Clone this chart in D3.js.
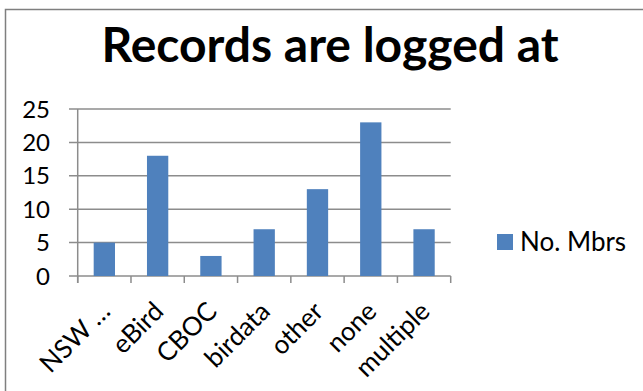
<!DOCTYPE html>
<html><head><meta charset="utf-8">
<script src="https://cdn.jsdelivr.net/npm/d3@7"></script>
<style>
html,body{margin:0;padding:0;background:#fff;}
svg{display:block;font-family:Lato, "Open Sans", sans-serif;}
</style></head>
<body>
<script>
const categories = ["NSW …","eBird","CBOC","birdata","other","none","multiple"];
const values = [5,18,3,7,13,23,7];
const yTicks = [0,5,10,15,20,25];
const seriesName = "No. Mbrs";
const title = "Records are logged at";

const W = 643, H = 391;
const svg = d3.select("body").append("svg").attr("width", W).attr("height", H);

// outer border (top and left only visible)
svg.append("path").attr("d", "M5.5,391 L5.5,9.5 L643,9.5").attr("fill","none").attr("stroke","#7f7f7f").attr("stroke-width",1.5);

const x = d3.scaleBand().domain(categories).range([77.7, 450.7]).paddingInner(0.6).paddingOuter(0.3);
const xb = d3.scaleBand().domain(categories).range([77.7, 450.7]);
const y = d3.scaleLinear().domain([0,25]).range([276, 109]);

// gridlines
svg.append("g").selectAll("line").data(yTicks).join("line")
  .attr("x1", 69).attr("x2", 450.7).attr("y1", d=>y(d)).attr("y2", d=>y(d))
  .attr("stroke", "#8c8c8c").attr("stroke-width", 1.5);

// y axis line
svg.append("line").attr("x1",77.7).attr("x2",77.7).attr("y1",y(25)).attr("y2",283).attr("stroke","#8c8c8c").attr("stroke-width",1.5);

// x ticks
const xt = categories.map(c=>xb(c)).concat([450.7]);
svg.append("g").selectAll("line").data(xt).join("line")
  .attr("x1",d=>d).attr("x2",d=>d).attr("y1",276).attr("y2",283)
  .attr("stroke","#8c8c8c").attr("stroke-width",1.5);

// bars
svg.append("g").selectAll("rect").data(values).join("rect")
  .attr("x",(d,i)=>x(categories[i])).attr("width",x.bandwidth())
  .attr("y",d=>y(d)).attr("height",d=>y(0)-y(d))
  .attr("fill","#4f81bd");

// y labels
svg.append("g").selectAll("text").data(yTicks).join("text")
  .attr("x",50).attr("y",d=>y(d)).attr("dy","0.36em")
  .attr("text-anchor","end").attr("font-size",24).attr("fill","#000")
  .text(d=>d);

// x labels
svg.append("g").selectAll("text").data(categories).join("text")
  .attr("transform",c=>`translate(${xb(c)+xb.bandwidth()/2+7.5},${313}) rotate(-45)`)
  .attr("text-anchor","end").attr("font-size",26).attr("fill","#000")
  .text(c=>c);

// title
svg.append("text").attr("x",330).attr("y",62).attr("text-anchor","middle")
  .attr("font-size",48).attr("font-weight","bold").attr("fill","#000").text(title);

// legend
svg.append("rect").attr("x",497).attr("y",234).attr("width",16).attr("height",16).attr("fill","#4f81bd");
svg.append("text").attr("x",520).attr("y",242).attr("dy","0.36em").attr("font-size",26).attr("fill","#000").text(seriesName);
</script>
</body></html>
